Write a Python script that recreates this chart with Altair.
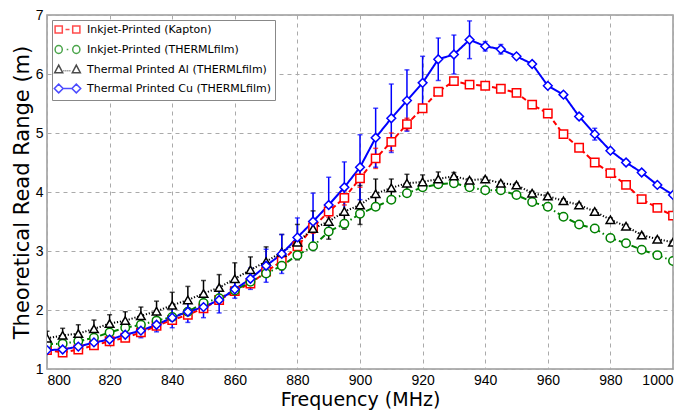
import altair as alt
import pandas as pd

freq = [800, 805, 810, 815, 820, 825, 830, 835, 840, 845, 850, 855, 860, 865, 870,
        875, 880, 885, 890, 895, 900, 905, 910, 915, 920, 925, 930, 935, 940, 945,
        950, 955, 960, 965, 970, 975, 980, 985, 990, 995, 1000]

names = ["Inkjet-Printed (Kapton)", "Inkjet-Printed (THERMLfilm)",
         "Thermal Printed Al (THERMLfilm)", "Thermal Printed Cu (THERMLfilm)"]
colors = ["#ff0000", "#008000", "#000000", "#0000ff"]

kapton = [1.32, 1.28, 1.33, 1.40, 1.47, 1.53, 1.62, 1.73, 1.83, 1.92, 2.03, 2.17, 2.32, 2.45, 2.65,
          2.83, 3.08, 3.40, 3.67, 3.90, 4.23, 4.57, 4.85, 5.15, 5.42, 5.70, 5.88, 5.82, 5.80, 5.75,
          5.68, 5.48, 5.33, 4.98, 4.75, 4.50, 4.32, 4.12, 3.88, 3.73, 3.60]
kapton_err = [0.04, 0.04, 0.04, 0.04, 0.04, 0.04, 0.04, 0.04, 0.04, 0.04, 0.04, 0.04, 0.04, 0.04, 0.05,
              0.06, 0.08, 0.10, 0.10, 0.12, 0.15, 0.17, 0.15, 0.10, 0.06, 0.04, 0.04, 0.04, 0.04, 0.04,
              0.04, 0.04, 0.04, 0.04, 0.04, 0.04, 0.04, 0.04, 0.04, 0.04, 0.04]

thermlfilm = [1.42, 1.43, 1.47, 1.53, 1.62, 1.70, 1.75, 1.82, 1.88, 1.97, 2.12, 2.20, 2.33, 2.48, 2.62,
              2.75, 2.93, 3.08, 3.33, 3.46, 3.63, 3.75, 3.87, 3.98, 4.08, 4.13, 4.15, 4.08, 4.03, 4.03,
              3.95, 3.83, 3.75, 3.58, 3.45, 3.38, 3.22, 3.13, 3.02, 2.93, 2.83]
thermlfilm_err = [0.04, 0.04, 0.04, 0.04, 0.04, 0.04, 0.04, 0.04, 0.04, 0.04, 0.04, 0.04, 0.04, 0.05, 0.05,
                  0.05, 0.06, 0.06, 0.06, 0.06, 0.06, 0.05, 0.04, 0.04, 0.04, 0.04, 0.04, 0.04, 0.04, 0.04,
                  0.04, 0.04, 0.04, 0.04, 0.04, 0.04, 0.04, 0.04, 0.04, 0.04, 0.04]

al = [1.52, 1.57, 1.60, 1.68, 1.77, 1.82, 1.90, 1.98, 2.08, 2.17, 2.28, 2.38, 2.53, 2.68, 2.82,
      2.98, 3.15, 3.38, 3.50, 3.67, 3.78, 3.97, 4.07, 4.15, 4.17, 4.22, 4.27, 4.20, 4.22, 4.15,
      4.12, 3.98, 3.93, 3.85, 3.78, 3.67, 3.53, 3.42, 3.27, 3.20, 3.15]
al_err = [0.12, 0.12, 0.15, 0.15, 0.15, 0.15, 0.15, 0.17, 0.22, 0.23, 0.22, 0.22, 0.27, 0.22, 0.25,
          0.30, 0.30, 0.30, 0.30, 0.30, 0.33, 0.25, 0.15, 0.15, 0.12, 0.12, 0.06, 0.03, 0.03, 0.03,
          0.03, 0.03, 0.03, 0.03, 0.03, 0.03, 0.03, 0.03, 0.03, 0.03, 0.03]

cu = [1.32, 1.33, 1.38, 1.45, 1.50, 1.58, 1.65, 1.75, 1.87, 1.97, 2.05, 2.17, 2.35, 2.53, 2.75,
      2.95, 3.23, 3.50, 3.78, 4.08, 4.42, 4.92, 5.25, 5.55, 5.85, 6.25, 6.33, 6.58, 6.47, 6.42,
      6.30, 6.17, 5.80, 5.65, 5.28, 4.98, 4.70, 4.50, 4.33, 4.12, 3.95]
cu_err = [0.05, 0.05, 0.08, 0.08, 0.10, 0.10, 0.12, 0.12, 0.17, 0.18, 0.18, 0.22, 0.15, 0.18, 0.28,
          0.33, 0.33, 0.48, 0.47, 0.43, 0.55, 0.50, 0.58, 0.52, 0.45, 0.36, 0.33, 0.32, 0.08, 0.08,
          0.04, 0.04, 0.04, 0.04, 0.04, 0.10, 0.04, 0.04, 0.04, 0.04, 0.04]

values = [kapton, thermlfilm, al, cu]
errors = [kapton_err, thermlfilm_err, al_err, cu_err]

shapes = ["square", "circle", "triangle-up", "diamond"]
sizes = [70, 76, 74, 115]
dashes = [[5, 3], [6, 3, 1.5, 3], [1.2, 1.8], [1, 0]]
widths = [2, 2, 1, 2]

# legend glyphs: marker - line - marker (unit = sqrt(size)/2 px)
legend_paths = [
    "M-3.1,-0.9L-1.3,-0.9L-1.3,0.9L-3.1,0.9Z M1.3,-0.9L3.1,-0.9L3.1,0.9L1.3,0.9Z M-0.5,0L0.5,0",
    "M-1.3,0A0.9,1 0 1,1 -3.1,0A0.9,1 0 1,1 -1.3,0Z M3.1,0A0.9,1 0 1,1 1.3,0A0.9,1 0 1,1 3.1,0Z M-0.2,0L0.2,0",
    "M-2.2,-1.1L-1.2,0.8L-3.2,0.8Z M2.2,-1.1L3.2,0.8L1.2,0.8Z M-1.0,0.3L-0.8,0.3M-0.5,0.3L-0.3,0.3M0,0.3L0.2,0.3M0.5,0.3L0.7,0.3",
    "M-3.3,0L-2.2,-1.1L-1.1,0L-2.2,1.1Z M1.1,0L2.2,-1.1L3.3,0L2.2,1.1Z M-1.1,0L1.1,0",
]

rows = []
for name, vals, errs in zip(names, values, errors):
    for f, v, e in zip(freq, vals, errs):
        rows.append({"series": name, "f": f, "v": v, "lo": v - e, "hi": v + e})
df = pd.DataFrame(rows)

xscale = alt.Scale(domain=[800, 1000], nice=False)
yscale = alt.Scale(domain=[1, 7], nice=False)
xaxis = alt.Axis(values=[800, 820, 840, 860, 880, 900, 920, 940, 960, 980, 1000],
                 format="d", title="Frequency (MHz)", labelPadding=4, titlePadding=3,
                 titleFontSize=19)
yaxis = alt.Axis(values=[1, 2, 3, 4, 5, 6, 7], format="d",
                 title="Theoretical Read Range (m)", labelPadding=4, titlePadding=3)

color_scale = alt.Scale(domain=names, range=colors)
stroke_enc = alt.Stroke("series:N", scale=color_scale, legend=None)

base = alt.Chart(df)

err_rules = base.mark_rule(strokeWidth=1.5, clip=True).encode(
    x=alt.X("f:Q", scale=xscale, axis=xaxis),
    y=alt.Y("lo:Q", scale=yscale, axis=yaxis),
    y2="hi:Q",
    stroke=stroke_enc,
)
caps_lo = base.mark_tick(orient="horizontal", size=5, thickness=1.5, clip=True).encode(
    x=alt.X("f:Q", scale=xscale), y=alt.Y("lo:Q", scale=yscale),
    color=alt.Color("series:N", scale=color_scale, legend=None)
)
caps_hi = base.mark_tick(orient="horizontal", size=5, thickness=1.5, clip=True).encode(
    x=alt.X("f:Q", scale=xscale), y=alt.Y("hi:Q", scale=yscale),
    color=alt.Color("series:N", scale=color_scale, legend=None)
)
lines = base.mark_line(clip=True).encode(
    x=alt.X("f:Q", scale=xscale),
    y=alt.Y("v:Q", scale=yscale),
    stroke=stroke_enc,
    strokeDash=alt.StrokeDash("series:N", scale=alt.Scale(domain=names, range=dashes), legend=None),
    strokeWidth=alt.StrokeWidth("series:N", scale=alt.Scale(domain=names, range=widths), legend=None),
)
points = base.mark_point(filled=True, fill="white", strokeWidth=1.5, opacity=1, clip=True).encode(
    x=alt.X("f:Q", scale=xscale),
    y=alt.Y("v:Q", scale=yscale),
    stroke=stroke_enc,
    shape=alt.Shape("series:N", scale=alt.Scale(domain=names, range=shapes), legend=None),
    size=alt.Size("series:N", scale=alt.Scale(domain=names, range=sizes), legend=None),
)
legend_layer = base.transform_filter("false").mark_point(filled=False, strokeWidth=1.5).encode(
    stroke=alt.Stroke("series:N", scale=color_scale, legend=alt.Legend(title=None)),
    shape=alt.Shape("series:N", scale=alt.Scale(domain=names, range=legend_paths), legend=alt.Legend(title=None)),
)

chart = alt.layer(err_rules, caps_lo, caps_hi, lines, points, legend_layer).resolve_scale(
    shape="independent", stroke="independent"
).properties(
    width=626, height=354,
    autosize=alt.AutoSizeParams(type="none"),
    padding={"left": 39, "top": 7, "right": 9, "bottom": 42},
).configure_view(
    stroke="#999999", strokeWidth=1.5
).configure_axis(
    domain=False, ticks=False, grid=True, gridDash=[4, 4], gridColor="#aaaaaa", gridWidth=1,
    labelFont="Liberation Sans", labelFontSize=14, labelColor="black",
    titleFont="DejaVu Sans", titleFontSize=21, titleFontWeight="normal", titleColor="black",
).configure_legend(
    orient="top-left", offset=5, padding=4, strokeColor="#888888", fillColor="white",
    cornerRadius=0, symbolSize=64, symbolStrokeWidth=1.5, symbolOffset=6, labelOffset=14,
    labelFont="DejaVu Sans", labelFontSize=11, labelColor="black", rowPadding=5, labelLimit=400,
)

chart.save("out.html", embed_options={"renderer": "svg", "actions": False})
